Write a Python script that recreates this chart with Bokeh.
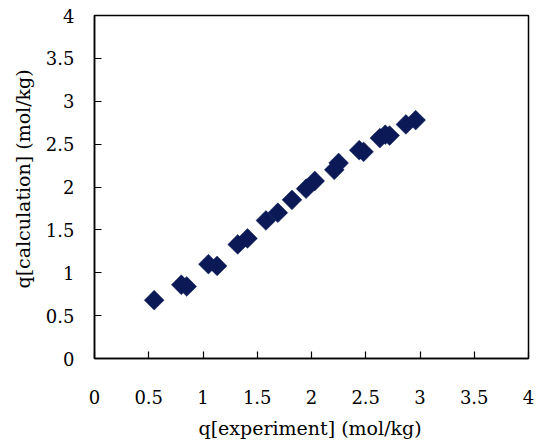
import numpy as np
from bokeh.plotting import figure
from bokeh.models import Range1d, FixedTicker, Title
from bokeh.embed import file_html
from bokeh.resources import INLINE

# data
q_experiment = [0.55, 0.80, 0.85, 1.05, 1.13, 1.32, 1.41, 1.58, 1.69, 1.82,
                1.95, 2.03, 2.21, 2.25, 2.44, 2.48, 2.63, 2.68, 2.72, 2.87, 2.96]
q_calculation = [0.68, 0.86, 0.84, 1.10, 1.08, 1.33, 1.40, 1.61, 1.70, 1.85,
                 1.98, 2.07, 2.20, 2.28, 2.43, 2.41, 2.57, 2.61, 2.60, 2.73, 2.78]
tick_values = [0, 0.5, 1, 1.5, 2, 2.5, 3, 3.5, 4]
tick_labels = ["0", "0.5", "1", "1.5", "2", "2.5", "3", "3.5", "4"]
x_title = "q[experiment] (mol/kg)"
y_title = "q[calculation] (mol/kg)"

FONT = "DejaVu Serif"
MARK = "#0B1A57"

p = figure(width=540, height=448, output_backend="svg", toolbar_location=None,
           x_range=Range1d(0, 4), y_range=Range1d(0, 4),
           min_border_left=94, min_border_right=12, min_border_top=15,
           min_border_bottom=90)
p.background_fill_color = "white"
p.border_fill_color = "white"
p.outline_line_color = "black"
p.outline_line_width = 1.5
p.xgrid.visible = False
p.ygrid.visible = False

overrides = {float(v): s for v, s in zip(tick_values, tick_labels)}
for ax in (p.xaxis[0], p.yaxis[0]):
    ax.ticker = FixedTicker(ticks=tick_values)
    ax.major_label_overrides = overrides
    ax.minor_tick_line_color = None
    ax.major_tick_in = 7
    ax.major_tick_out = 0
    ax.axis_line_color = "black"
    ax.axis_line_width = 1.5
    ax.major_tick_line_color = "black"
    ax.major_tick_line_width = 1.2
    ax.major_label_text_font = FONT
    ax.major_label_text_font_size = "18px"
    ax.major_label_text_color = "black"

p.xaxis[0].major_label_standoff = 31
p.yaxis[0].major_label_standoff = 20

p.scatter(q_experiment, q_calculation, marker="square", angle=np.pi / 4,
          size=14, fill_color=MARK, line_color=MARK, line_width=0.5)

title_kw = dict(text_font=FONT, text_font_size="19px", text_font_style="normal",
                text_color="black", align="left", vertical_align="bottom")
p.add_layout(Title(text=x_title, offset=104, standoff=17, **title_kw), "below")
p.add_layout(Title(text=y_title, offset=70, standoff=18, **title_kw), "left")

open("out.html", "w").write(file_html(p, INLINE))
